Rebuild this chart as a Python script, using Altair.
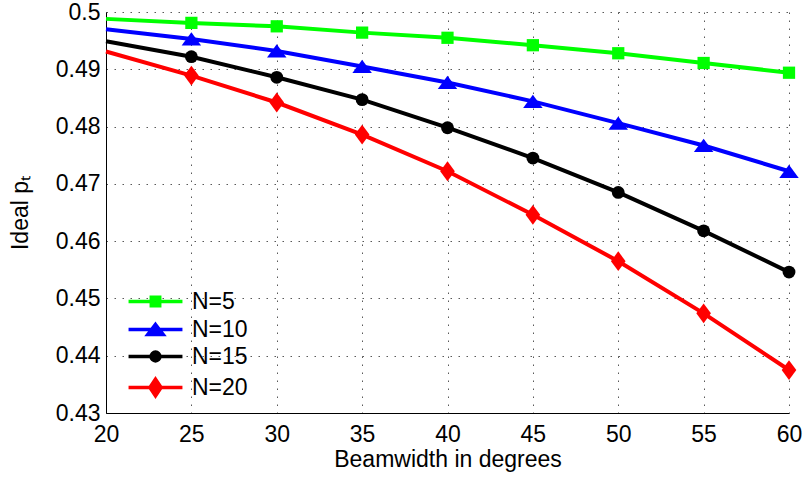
import altair as alt
import pandas as pd

# ---- data ----
beamwidth = [20, 25, 30, 35, 40, 45, 50, 55, 60]
n5 = [0.4988, 0.4981, 0.4975, 0.4964, 0.4955, 0.4942, 0.4928, 0.4911, 0.4894]
n10 = [0.4970, 0.4953, 0.4932, 0.4905, 0.4877, 0.4844, 0.4806, 0.4767, 0.4722]
n15 = [0.4949, 0.4922, 0.4886, 0.4847, 0.4798, 0.4745, 0.4685, 0.4618, 0.4546]
n20 = [0.4931, 0.4889, 0.4842, 0.4786, 0.4722, 0.4646, 0.4565, 0.4474, 0.4375]
series_names = ["N=5", "N=10", "N=15", "N=20"]
x_ticks = [20, 25, 30, 35, 40, 45, 50, 55, 60]
y_ticks = [0.43, 0.44, 0.45, 0.46, 0.47, 0.48, 0.49, 0.5]

colors = ["#00ff00", "#0000ff", "#000000", "#ff0000"]

rows = []
for name, vals in zip(series_names, [n5, n10, n15, n20]):
    for x, y in zip(beamwidth, vals):
        rows.append({"beamwidth": x, "pt": y, "series": name})
df = pd.DataFrame(rows)

FONT = "Liberation Sans"
FS = 23

# plot marker shapes (filled, no stroke)
marker_shapes = [
    "square",
    "M0,-0.68L1,0.68L-1,0.68Z",
    "circle",
    "M0,-1.35L1,0L0,1.35L-1,0Z",
]
marker_sizes = [150, 380, 165, 215]

# legend symbols: line segment + marker
line_seg = "M-3.85,0H3.85"
legend_shapes = [
    line_seg + "M-0.6,-0.6H0.6V0.6H-0.6Z",
    line_seg + "M0,-0.72L1.1,0.72L-1.1,0.72Z",
    line_seg + "M0.63,0A0.63,0.63 0 1,1 -0.63,0A0.63,0.63 0 1,1 0.63,0Z",
    line_seg + "M0,-1.2L0.8,0L0,1.2L-0.8,0Z",
]

x_enc = alt.X(
    "beamwidth:Q",
    scale=alt.Scale(domain=[20, 60], nice=False, zero=False),
    axis=alt.Axis(
        values=x_ticks,
        format="d",
        title="Beamwidth in degrees",
        labelFlush=False,
        labelOverlap=False,
    ),
)
y_enc = alt.Y(
    "pt:Q",
    scale=alt.Scale(domain=[0.43, 0.5], nice=False, zero=False),
    axis=alt.Axis(
        values=y_ticks,
        format=".2~f",
        title="Ideal pₜ",
        labelOverlap=False,
        titlePadding=23,
    ),
)

base = alt.Chart(df)

line_layers = []
point_layers = []
for name, col, shp, sz in zip(series_names, colors, marker_shapes, marker_sizes):
    line_layers.append(
        base.transform_filter(alt.datum.series == name)
        .mark_line(strokeWidth=4, color=col)
        .encode(x=x_enc, y=y_enc)
    )
    point_layers.append(
        base.transform_filter(
            (alt.datum.series == name) & (alt.datum.beamwidth > 20)
        )
        .mark_point(shape=shp, filled=True, size=sz, color=col, opacity=1)
        .encode(x=x_enc, y=y_enc)
    )

leg = dict(
    title=None,
    orient="none",
    legendX=38,
    legendY=278,
    symbolFillColor="#000000",
    symbolStrokeColor="#000000",
)

legend_layer = (
    base.mark_point(filled=True, opacity=0)
    .encode(
        x=x_enc,
        y=y_enc,
        fill=alt.Fill(
            "series:N",
            scale=alt.Scale(domain=series_names, range=colors),
            legend=alt.Legend(
                padding=0,
                symbolSize=196,
                symbolStrokeWidth=3.5,
                symbolOpacity=1,
                labelFontSize=FS,
                labelFont=FONT,
                labelColor="#000",
                labelOffset=25,
                rowPadding=3,
                **leg,
            ),
        ),
        stroke=alt.Stroke(
            "series:N",
            scale=alt.Scale(domain=series_names, range=colors),
            legend=alt.Legend(**leg),
        ),
        shape=alt.Shape(
            "series:N",
            scale=alt.Scale(domain=series_names, range=legend_shapes),
            legend=alt.Legend(**leg),
        ),
    )
)

chart = (
    alt.layer(*line_layers, *point_layers, legend_layer)
    .properties(
        width=683,
        height=401,
        autosize=alt.AutoSizeParams(type="none"),
        padding={"left": 106, "top": 12, "right": 14, "bottom": 65},
        background="white",
    )
    .configure_view(stroke=None)
    .configure_axis(
        grid=True,
        gridColor="#000000",
        gridOpacity=0.65,
        gridDash=[1.5, 6.5],
        gridWidth=1,
        domainColor="#000000",
        domainWidth=1,
        tickSize=0,
        labelFont=FONT,
        labelFontSize=FS,
        labelColor="#000000",
        titleFont=FONT,
        titleFontSize=FS,
        titleFontWeight="normal",
        titleColor="#000000",
    )
    .configure_axisX(labelPadding=10, titlePadding=2)
    .configure_axisY(labelPadding=6)
)

chart.save("out.html", embed_options={"renderer": "svg", "actions": False})
